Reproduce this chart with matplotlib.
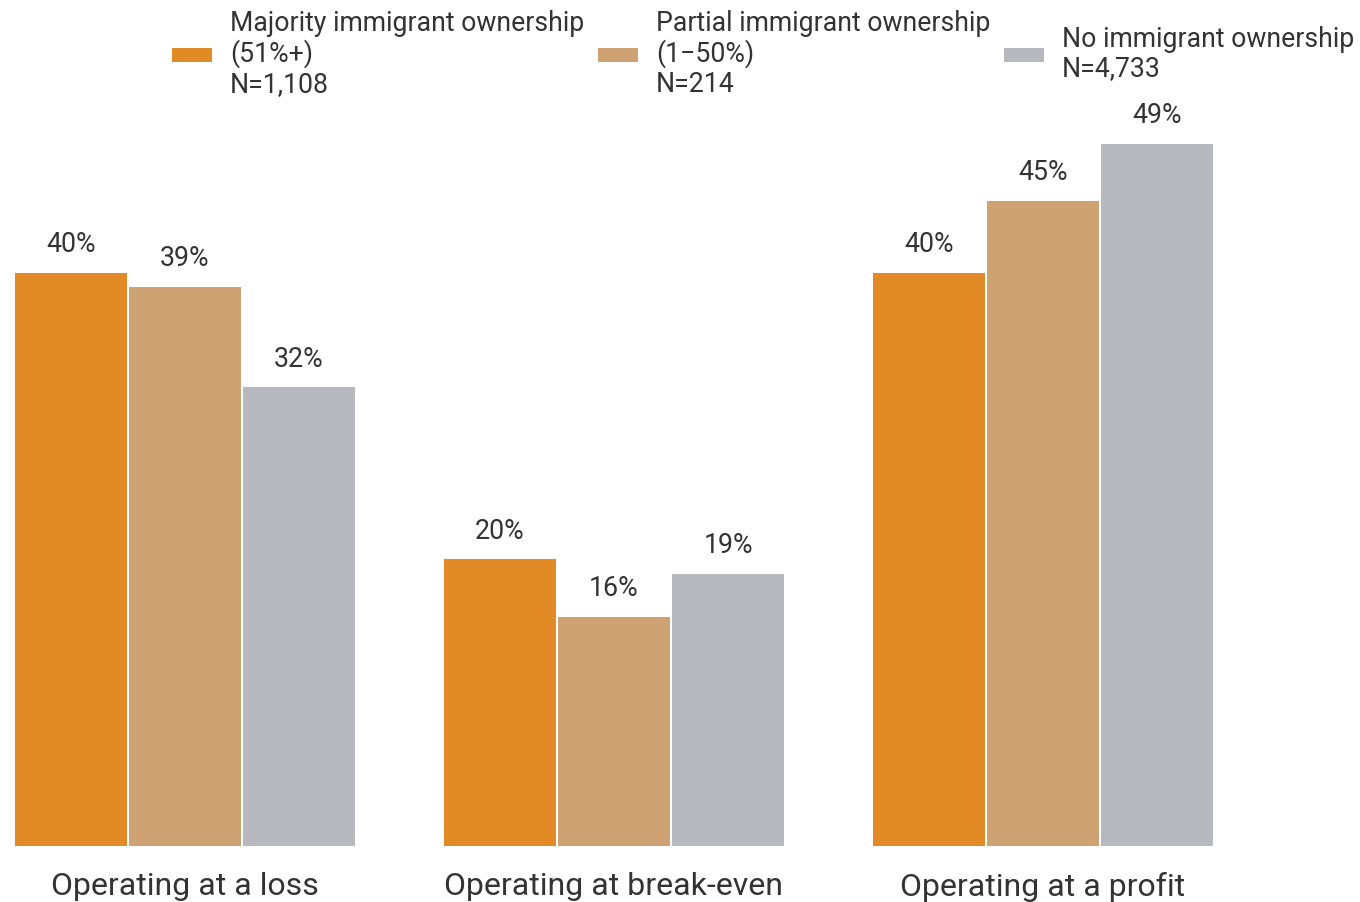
import matplotlib
matplotlib.use("Agg")
import matplotlib.pyplot as plt
from matplotlib.patches import Rectangle
import numpy as np

plt.rcParams['font.family'] = ['Roboto', 'DejaVu Sans']

categories = ["Operating at a loss", "Operating at break-even", "Operating at a profit"]
series = ["Majority immigrant ownership\n(51%+)\nN=1,108",
          "Partial immigrant ownership\n(1\u221250%)\nN=214",
          "No immigrant ownership\nN=4,733"]
majority = [40, 20, 40]
partial = [39, 16, 45]
none_ = [32, 19, 49]
colors = ["#E28B26", "#CEA272", "#B8B9BE"]
text_color = "#333333"

W, H = 1360, 902
fig = plt.figure(figsize=(W / 100, H / 100), dpi=100)

# axes placed in pixel terms
px_per_pct = 14.33
ymax = 55
ax_left, ax_right, ax_bottom = 15, 1213, 846
ax_h = ymax * px_per_pct
ax = fig.add_axes([ax_left / W, (H - ax_bottom) / H, (ax_right - ax_left) / W, ax_h / H])

x = np.arange(len(categories))
step = 114 / 429
width = 112 / 429
for i, vals in enumerate([majority, partial, none_]):
    pos = x + (i - 1) * step
    bars = ax.bar(pos, vals, width=width, color=colors[i], linewidth=0)
    for b, v in zip(bars, vals):
        ax.annotate(f"{v}%", (b.get_x() + b.get_width() / 2, v),
                    xytext=(0, 20.3), textcoords="offset points",
                    ha="center", va="center", fontsize=19.3, color=text_color)

ax.set_xlim(-170 / 429, (1213 - 185) / 429)
ax.set_ylim(0, ymax)
ax.set_xticks(x)
ax.set_xticklabels(categories, fontsize=23, color=text_color)
ax.tick_params(axis="x", length=0, pad=19)
ax.set_yticks([])
for s in ax.spines.values():
    s.set_visible(False)

# legend, drawn by hand in figure pixels
patch_x = [172, 598, 1004]
text_x = [230, 656, 1062]
patch_y = 55
for i in range(3):
    fig.patches.append(Rectangle((patch_x[i] / W, (H - patch_y - 7) / H), 40 / W, 14 / H,
                                 transform=fig.transFigure, color=colors[i], linewidth=0))
    fig.text(text_x[i] / W, (H - 54) / H, series[i], ha="left", va="center",
             fontsize=19.2, color=text_color, linespacing=1.11)

fig.savefig("out.png", dpi=100)
